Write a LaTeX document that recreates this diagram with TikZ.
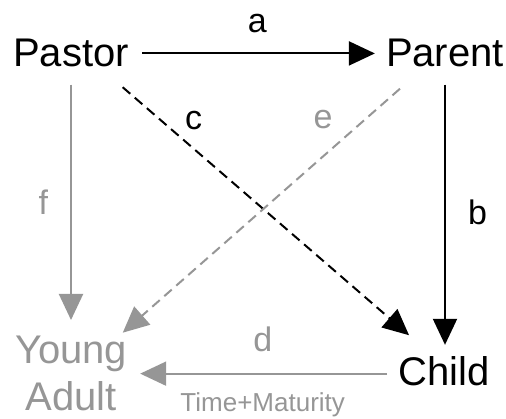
\documentclass[tikz,border=0pt]{standalone}
\usepackage{fontspec}
\setmainfont{Liberation Sans}
\usetikzlibrary{arrows.meta}
\definecolor{fade}{RGB}{150,150,150}

\begin{document}
\begin{tikzpicture}[x=1pt,y=-1pt,w/.style={inner sep=0pt,font=\fontsize{40}{47}\selectfont},lab/.style={inner sep=0pt,font=\fontsize{34}{40}\selectfont},arr/.style={-{Triangle[length=26pt,width=24pt]},line width=2pt},dsh/.style={arr,dash pattern=on 10pt off 6pt}]
\useasboundingbox (0,0) rectangle (506,419);
\node[w,anchor=base](pastor) at (71,67){Pastor};\node[w,anchor=base](parent) at (445,67){Parent};
\node[w,anchor=base](child) at (444,386){Child};
\node[w,anchor=north,align=center,text=fade](young) at (71,336){Young\\Adult};
\draw[arr,shorten <=13pt,shorten >=11pt](pastor.east)--node[lab,above=20pt]{a}(parent.west);
\draw[arr,shorten <=17pt,shorten >=12pt](parent.south)--node[lab,right=22pt]{b}(parent.south|-child.north);
\draw[dsh,shorten <=30pt,shorten >=33pt]([xshift=29pt]pastor.south)--node[lab,pos=.24,anchor=south west,xshift=4pt,yshift=6pt]{c}([xshift=-10pt]child.north);
\draw[dsh,fade,shorten <=32pt,shorten >=5pt]([xshift=-21pt]parent.south)--node[lab,pos=.27,anchor=south east,xshift=-8pt,yshift=10pt]{e}([xshift=48pt]young.north);
\draw[arr,fade,shorten <=17pt,shorten >=16pt](pastor.south)--node[lab,left=22pt]{f}(young.north);
\draw[arr,fade,shorten <=11pt,shorten >=13pt](young.east-|child.west)--node[lab,above=21pt]{d}node[below=18pt,inner sep=0pt,font=\fontsize{26}{30}\selectfont]{Time+Maturity}(young.east);
\end{tikzpicture}
\end{document}
